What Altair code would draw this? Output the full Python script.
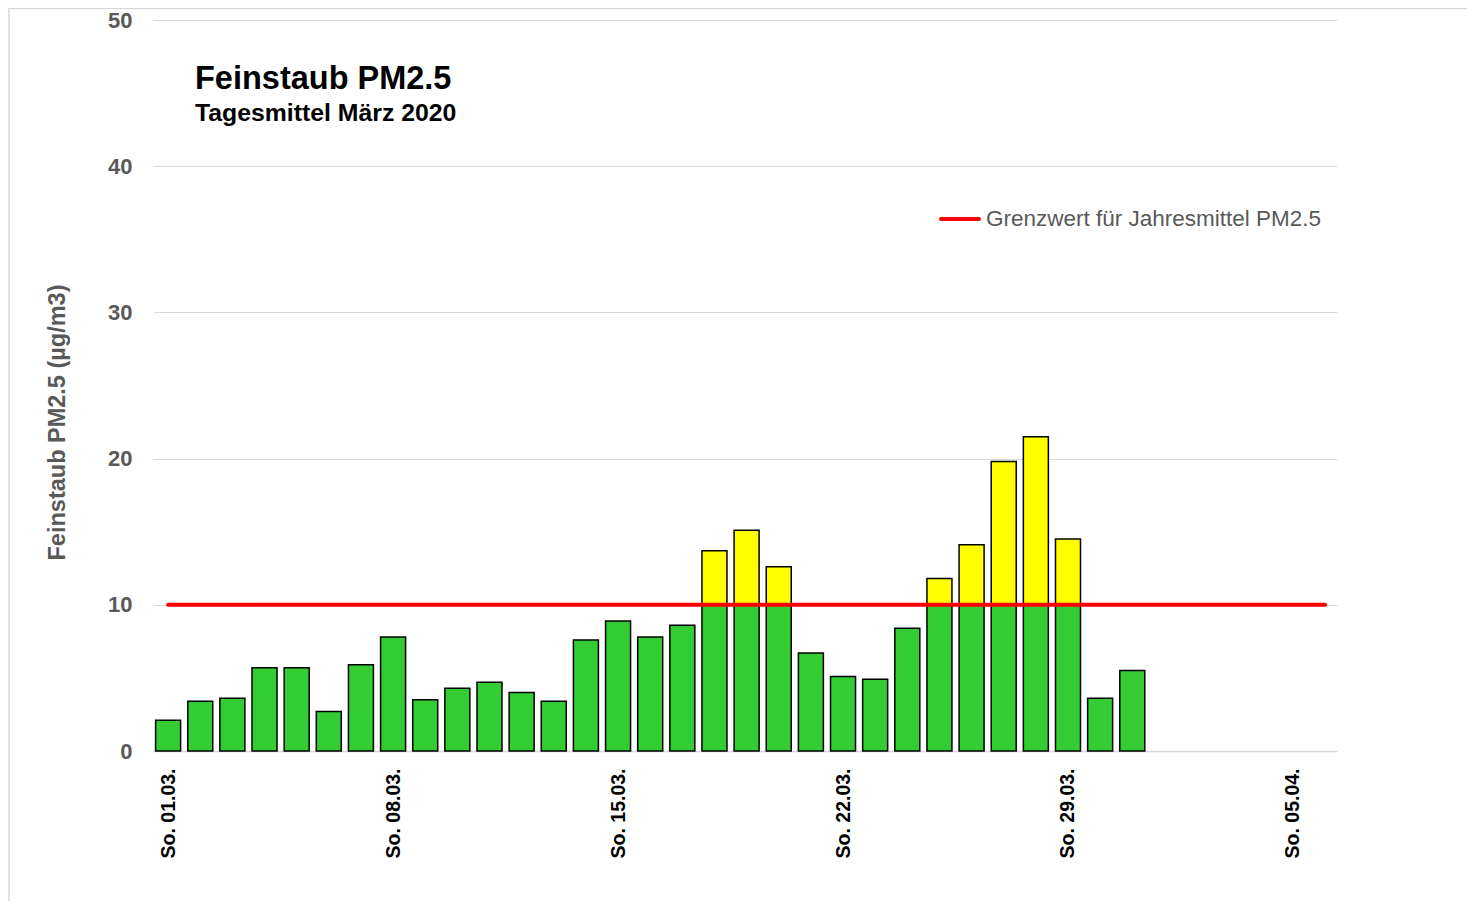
import altair as alt
import pandas as pd

# ---- data ----
days = list(range(1, 32))  # 1..31 March 2020
pm25 = [2.1, 3.4, 3.6, 5.7, 5.7, 2.7, 5.9, 7.8, 3.5, 4.3, 4.7, 4.0, 3.4,
        7.6, 8.9, 7.8, 8.6, 13.7, 15.1, 12.6, 6.7, 5.1, 4.9, 8.4, 11.8,
        14.1, 19.8, 21.5, 14.5, 3.6, 5.5]
limit_value = 10
limit_days = [0, 36]  # 01.03. .. end of 05.04.
tick_days = [0, 7, 14, 21, 28, 35]
tick_labels = ["So. 01.03.", "So. 08.03.", "So. 15.03.", "So. 22.03.",
               "So. 29.03.", "So. 05.04."]
y_ticks = [0, 10, 20, 30, 40, 50]

title_text = "Feinstaub PM2.5"
subtitle_text = "Tagesmittel März 2020"
legend_text = "Grenzwert für Jahresmittel PM2.5"
y_title = "Feinstaub PM2.5 (µg/m3)"

FONT = "Liberation Sans"
W, H = 1184, 731
TOP = 12

df = pd.DataFrame({"day": [d - 1 for d in days], "value": pm25})
df["green_top"] = df["value"].clip(upper=limit_value)
df["limit"] = limit_value
df_y = df[df["value"] > limit_value]
df_limit = pd.DataFrame({"day": limit_days, "value": [limit_value] * 2})

label_array = "[" + ",".join(f"'{t}'" for t in tick_labels) + "]"

x_scale = alt.Scale(domain=[-0.47, 36.37], nice=False, zero=False, padding=0)
y_scale = alt.Scale(domain=[0, 50], nice=False, padding=0)

x_axis = alt.Axis(
    values=tick_days, labelExpr=f"{label_array}[round(datum.value/7)]",
    labelAngle=270, labelAlign="right", labelBaseline="middle",
    labelFont=FONT, labelFontSize=19.5, labelFontWeight="bold", labelColor="#000000",
    labelPadding=17, ticks=False, grid=False, domainColor="#D9D9D9",
    domainWidth=1.5, title=None,
)
y_axis = alt.Axis(
    values=y_ticks, labelFont=FONT, labelFontSize=22, labelFontWeight="bold",
    labelColor="#595959", labelPadding=21, ticks=False, domain=False,
    gridColor="#D9D9D9", gridWidth=1.2, title=y_title, titleFont=FONT,
    titleFontSize=23.5, titleFontWeight="bold", titleColor="#595959",
    titleX=-96, titleY=422 - 8 - TOP, titleAngle=270, titleAlign="center",
    titleBaseline="middle",
)

base = alt.Chart(df)

green = base.mark_bar(size=25, color="#33CC33", stroke="#000000",
                      strokeWidth=1.5).encode(
    x=alt.X("day:Q", scale=x_scale, axis=x_axis),
    y=alt.Y("green_top:Q", scale=y_scale, axis=y_axis),
    y2=alt.value(H),
)

yellow = alt.Chart(df_y).mark_bar(size=25, color="#FFFF00", stroke="#000000",
                                  strokeWidth=1.5).encode(
    x=alt.X("day:Q", scale=x_scale),
    y=alt.Y("value:Q", scale=y_scale),
    y2="limit:Q",
)

limit_line = alt.Chart(df_limit).mark_line(color="#FF0000", strokeWidth=4,
                                           strokeCap="round").encode(
    x=alt.X("day:Q", scale=x_scale),
    y=alt.Y("value:Q", scale=y_scale),
)

title = alt.Chart(pd.DataFrame({"t": [title_text]})).mark_text(
    font=FONT, fontSize=32.5, fontWeight="bold", color="#000000",
    align="left", baseline="alphabetic",
).encode(text="t:N", x=alt.value(42), y=alt.value(89 - 8 - TOP))

subtitle = alt.Chart(pd.DataFrame({"t": [subtitle_text]})).mark_text(
    font=FONT, fontSize=24.8, fontWeight="bold", color="#000000",
    align="left", baseline="alphabetic",
).encode(text="t:N", x=alt.value(42), y=alt.value(121 - 8 - TOP))

legend_sym = alt.Chart(pd.DataFrame({"t": [legend_text]})).mark_rule(
    color="#FF0000", strokeWidth=4, strokeCap="round",
).encode(x=alt.value(788), x2=alt.value(826), y=alt.value(219 - 8 - TOP))

legend_lbl = alt.Chart(pd.DataFrame({"t": [legend_text]})).mark_text(
    font=FONT, fontSize=22.5, color="#595959", align="left", baseline="middle",
).encode(text="t:N", x=alt.value(833), y=alt.value(219 - 8 - TOP))

border = alt.Chart(pd.DataFrame({"t": [""]})).mark_rect(
    fill=None, stroke="#D9D9D9", strokeWidth=1.5,
).encode(x=alt.value(-144), x2=alt.value(W + 250), y=alt.value(0.5 - TOP),
         y2=alt.value(H + 250))

chart = alt.layer(
    border, green, yellow, limit_line, title, subtitle, legend_sym, legend_lbl
).properties(
    width=W, height=H, background="#FFFFFF",
    autosize=alt.AutoSizeParams(type="none"),
    padding={"left": 145, "top": TOP, "right": 130, "bottom": 150},
).configure_view(strokeWidth=0, stroke="transparent")

chart.save("out.html", embed_options={"renderer": "svg", "actions": False})
